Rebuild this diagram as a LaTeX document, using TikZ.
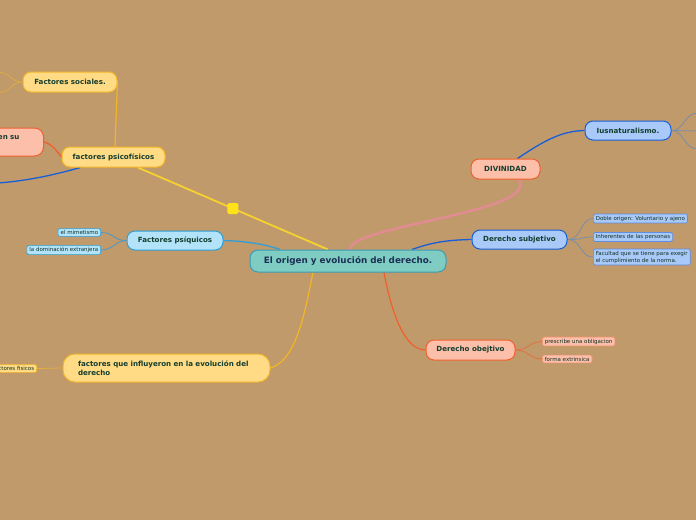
\documentclass[tikz,border=0pt]{standalone}
\usepackage{fontspec}
\setmainfont{DejaVu Sans}
\usetikzlibrary{positioning, calc, backgrounds}
\definecolor{bgtan}{HTML}{C09A6B}
\definecolor{inkgreen}{HTML}{153D2E}
\definecolor{inknavy}{HTML}{1E2F55}
\definecolor{rootfill}{HTML}{7FCDC2}
\definecolor{rootline}{HTML}{3B9BB5}
\definecolor{salfill}{HTML}{FBBFAA}
\definecolor{salline}{HTML}{F0602E}
\definecolor{bluefill}{HTML}{A9CAF8}
\definecolor{blueline}{HTML}{1A5ED6}
\definecolor{yelfill}{HTML}{FFDB86}
\definecolor{yelline}{HTML}{F2B526}
\definecolor{cyanfill}{HTML}{B2E3F8}
\definecolor{cyanline}{HTML}{2E9FD8}
\definecolor{pinkline}{HTML}{E38B93}
\definecolor{sunline}{HTML}{F5D22F}
\definecolor{marker}{HTML}{FFE21A}
\definecolor{greyblue}{HTML}{7A8DAA}

\begin{document}
\begin{tikzpicture}[
  x=1pt, y=-1pt,
  topic/.style 2 args={
    draw=#1, line width=1pt, fill=#2, rounded corners=8pt,
    inner sep=0pt, text=inkgreen, align=center,
    font=\fontsize{7.1}{9}\selectfont\bfseries
  },
  leaf/.style 2 args={
    draw=#1, line width=0.6pt, fill=#2, rounded corners=1.5pt,
    inner xsep=2.5pt, inner ysep=1.8pt, anchor=west, align=left,
    text=inkgreen!80!black, font=\fontsize{5.5}{7}\selectfont
  },
  branch/.style={line width=#1},
  twig/.style={line width=0.8pt, #1},
  flag/.style={fill=marker, rounded corners=1.5pt, minimum size=11pt, inner sep=0pt},
]

% Background
\useasboundingbox (0,0) rectangle (696,520);

% =============================================
% Central topic
% =============================================
\node[topic={rootline}{rootfill}, minimum width=196pt, minimum height=22pt,
  text=inknavy, font=\fontsize{8.8}{10}\selectfont\bfseries] (root) at (348,261)
  {El origen y evoluci\'on del derecho.};

% =============================================
% Right side
% =============================================
\node[topic={salline}{salfill}, minimum width=69pt, minimum height=20pt] (divin) at (505.5,169)
  {DIVINIDAD};
\node[topic={blueline}{bluefill}, minimum width=86pt, minimum height=19pt] (iusnat) at (628,130.5)
  {Iusnaturalismo.};

\node[topic={blueline}{bluefill}, minimum width=95pt, minimum height=19pt] (dsubj) at (519.5,239.5)
  {Derecho subjetivo};
\node[leaf={blueline!70}{bluefill}] (doble) at (593,218.5)
  {Doble origen: Voluntario y ajeno};
\node[leaf={blueline!70}{bluefill}] (inher) at (593,237)
  {Inherentes de las personas};
\node[leaf={blueline!70}{bluefill}] (facul) at (593,257)
  {Facultad que se tiene para exegir\\el cumplimiento de la norma.};

\node[topic={salline}{salfill}, minimum width=89pt, minimum height=20pt] (dobj) at (470.5,350)
  {Derecho obejtivo};
\node[leaf={salline!70}{salfill}] (presc) at (542,341.5)
  {prescribe una obligacion};
\node[leaf={salline!70}{salfill}] (forma) at (542,359)
  {forma extrinsica};

% =============================================
% Left side
% =============================================
\node[topic={yelline}{yelfill}, minimum width=103pt, minimum height=20pt] (psicof) at (113.5,157)
  {factores psicof\'isicos};
\node[topic={yelline}{yelfill}, minimum width=94pt, minimum height=20pt] (social) at (70,82)
  {Factores sociales.};
\node[topic={salline}{salfill}, minimum height=28pt, text width=90pt, align=right,
  anchor=east, rounded corners=9pt] (ensu) at (44,142)
  {\mbox{en su\rule{24pt}{0pt}}\\\mbox{}};

\node[topic={cyanline}{cyanfill}, minimum width=96pt, minimum height=19pt] (psiq) at (175,240.5)
  {Factores ps\'iquicos};
\node[leaf={cyanline}{cyanfill}, anchor=east] (mimet) at (101,232.5)
  {el mimetismo};
\node[leaf={cyanline}{cyanfill}, anchor=east] (domin) at (101,250)
  {la dominaci\'on extranjera};

\node[topic={yelline}{yelfill}, minimum width=207pt, minimum height=28pt,
  text width=185pt, align=left, rounded corners=12pt] (influ) at (166.5,368)
  {\hspace*{4pt}factores que influyeron en la evoluci\'on del\\\hspace*{4pt}derecho};
\node[leaf={yelline}{yelfill}, anchor=east] (fisic) at (37,368.5)
  {Factores fisicos};

% free ends at the page edge
\coordinate (soc-a) at (-2,72);
\coordinate (soc-b) at (-2,93);
\coordinate (blu-end) at (-2,183);
\coordinate (ius-a) at (698,113);
\coordinate (ius-b) at (698,131);
\coordinate (ius-c) at (698,149);

% =============================================
% Connectors
% =============================================
\begin{scope}[on background layer]
\fill[bgtan] (0,0) rectangle (696,520);

\draw[branch=1.8pt, sunline] ([xshift=-20pt]root.north) -- (psicof)
  node[flag, pos=0.5] (flagmark) {};
\draw[branch=1.2pt, yelline] ([xshift=1.5pt]psicof.north) .. controls (116,120) .. (social.east);
\draw[twig=yelline!60!bgtan] (social.west) .. controls (10,82) and (12,73) .. (soc-a);
\draw[twig=yelline!60!bgtan] (social.west) .. controls (10,82) and (12,92) .. (soc-b);
\draw[branch=1.3pt, salline] (psicof.west) .. controls (56,150) and (52,144) .. (ensu.east);
\draw[branch=1.3pt, blueline] ([xshift=-33pt]psicof.south) .. controls (50,176) and (25,181) .. (blu-end);

\draw[branch=1.3pt, cyanline] ([xshift=-68pt]root.north) .. controls (262,243) and (240,241) .. (psiq.east);
\draw[twig=cyanline!60!greyblue] (psiq.west) .. controls (114,241) and (114,232.5) .. (mimet.east);
\draw[twig=cyanline!60!greyblue] (psiq.west) .. controls (114,241) and (114,250) .. (domin.east);

\draw[branch=1.2pt, yelline] ([xshift=-35pt]root.south) .. controls (306,305) and (298,360) .. (influ.east);
\draw[twig=yelline!70!bgtan] (influ.west) -- (fisic.east);

\draw[branch=2.4pt, pinkline] ([xshift=2pt]root.north) .. controls (348,226) and (542,212) .. ([xshift=13pt]divin.south);
\draw[branch=1.3pt, blueline] ([xshift=12pt]divin.north) .. controls (545,140) and (562,131) .. (iusnat.west);
\draw[twig=greyblue] (iusnat.east) .. controls (684,131) and (684,113) .. (ius-a);
\draw[twig=greyblue] (iusnat.east) -- (ius-b);
\draw[twig=greyblue] (iusnat.east) .. controls (684,131) and (684,149) .. (ius-c);

\draw[branch=1.3pt, blueline] ([xshift=64pt]root.north) .. controls (430,243) and (445,240) .. (dsubj.west);
\draw[twig=greyblue] (dsubj.east) .. controls (582,240) and (580,218.5) .. (doble.west);
\draw[twig=greyblue] (dsubj.east) .. controls (582,240) and (580,237) .. (inher.west);
\draw[twig=greyblue] (dsubj.east) .. controls (582,240) and (580,257) .. (facul.west);

\draw[branch=1.2pt, salline] ([xshift=36pt]root.south) .. controls (392,315) and (405,350) .. (dobj.west);
\draw[twig=salline!70!bgtan] (dobj.east) .. controls (528,350) and (530,341.5) .. (presc.west);
\draw[twig=salline!70!bgtan] (dobj.east) .. controls (528,350) and (530,359) .. (forma.west);
\end{scope}

\end{tikzpicture}
\end{document}
